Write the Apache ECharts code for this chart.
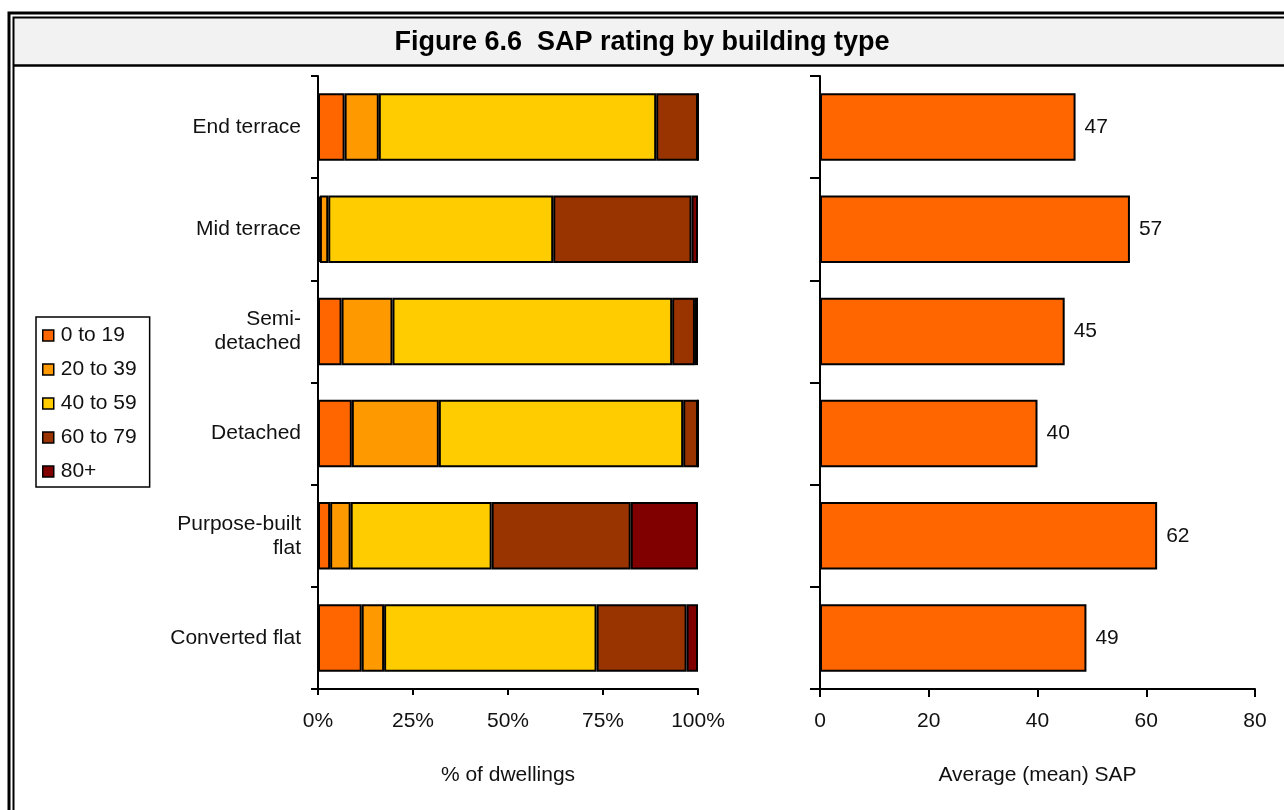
<!DOCTYPE html>
<html>
<head>
<meta charset="utf-8">
<script src="https://cdn.jsdelivr.net/npm/echarts@6/dist/echarts.min.js"></script>
<style>
  html, body { margin: 0; padding: 0; background: #fff; }
  #chart { width: 1284px; height: 810px; }
</style>
</head>
<body>
<div id="chart"></div>
<script>
// Building types, top to bottom
const buildingTypes = ['End terrace', 'Mid terrace', 'Semi-\ndetached', 'Detached', 'Purpose-built\nflat', 'Converted flat'];

// SAP bands and their share of dwellings (%) per building type
const bandNames = ['0 to 19', '20 to 39', '40 to 59', '60 to 79', '80+'];
const band0to19  = [7.0, 0.5, 6.2, 8.9, 3.2, 11.5];
const band20to39 = [9.0, 2.2, 13.4, 22.9, 5.4, 5.9];
const band40to59 = [73.0, 59.2, 73.6, 64.3, 37.1, 55.9];
const band60to79 = [11.0, 36.4, 6.0, 3.9, 36.6, 23.7];
const band80plus = [0.0, 1.7, 0.8, 0.0, 17.7, 3.0];

// Average (mean) SAP per building type
const meanSap = [47, 57, 45, 40, 62, 49];

const bandColors = ['#FF6600', '#FF9900', '#FFCC00', '#993300', '#800000'];
const bandValues = [band0to19, band20to39, band40to59, band60to79, band80plus];

const FONT = '"Liberation Sans", Arial, sans-serif';
const TXT = '#111';
const FS = 21;

const chart = echarts.init(document.getElementById('chart'), null, { renderer: 'canvas' });

const stackSeries = bandNames.map((name, i) => ({
  name: name,
  type: 'bar',
  stack: 'share',
  xAxisIndex: 0,
  yAxisIndex: 0,
  barCategoryGap: '34%',
  itemStyle: { color: bandColors[i], borderColor: '#000', borderWidth: 2 },
  emphasis: { disabled: true },
  data: bandValues[i]
}));

const axisLine = { show: true, lineStyle: { color: '#000', width: 2 } };

chart.setOption({
  animation: false,
  textStyle: { fontFamily: FONT },
  graphic: [
    { type: 'rect', shape: { x: 14, y: 18, width: 1270, height: 47 }, style: { fill: '#f2f2f2' }, silent: true },
    { type: 'polyline', shape: { points: [[9, 810], [9, 13], [1284, 13]] }, style: { stroke: '#000', lineWidth: 3, fill: null }, silent: true },
    { type: 'polyline', shape: { points: [[13.5, 810], [13.5, 17.5], [1284, 17.5]] }, style: { stroke: '#000', lineWidth: 2, fill: null }, silent: true },
    { type: 'line', shape: { x1: 14, y1: 65.5, x2: 1284, y2: 65.5 }, style: { stroke: '#000', lineWidth: 2.5 }, silent: true },
    { type: 'text', x: 642, y: 43, style: { text: 'Figure 6.6  SAP rating by building type', font: 'bold 27px ' + FONT, fill: '#000', textAlign: 'center', textVerticalAlign: 'middle' }, silent: true }
  ],
  legend: {
    orient: 'vertical',
    left: 36,
    top: 317,
    data: bandNames,
    icon: 'rect',
    itemWidth: 11,
    itemHeight: 11,
    itemGap: 13,
    padding: [8, 13, 5, 6],
    borderColor: '#000',
    borderWidth: 1.5,
    backgroundColor: '#fff',
    selectedMode: false,
    itemStyle: { borderColor: '#000', borderWidth: 1.5 },
    textStyle: { fontSize: FS, color: TXT, lineHeight: 21, padding: [0, 0, 0, 2], fontFamily: FONT }
  },
  grid: [
    { left: 318, right: 586, top: 76, bottom: 121 },
    { left: 820, right: 29, top: 76, bottom: 121 }
  ],
  xAxis: [
    {
      gridIndex: 0, type: 'value', min: 0, max: 100, interval: 25,
      axisLine: axisLine,
      axisTick: { show: true, length: 6, lineStyle: { color: '#000', width: 2 } },
      splitLine: { show: false },
      axisLabel: { formatter: '{value}%', fontSize: FS, color: TXT, margin: 22 },
      name: '% of dwellings', nameLocation: 'middle', nameGap: 76,
      nameTextStyle: { fontSize: FS, color: TXT }
    },
    {
      gridIndex: 1, type: 'value', min: 0, max: 80, interval: 20,
      axisLine: axisLine,
      axisTick: { show: true, length: 8, lineStyle: { color: '#000', width: 2 } },
      splitLine: { show: false },
      axisLabel: { fontSize: FS, color: TXT, margin: 22 },
      name: 'Average (mean) SAP', nameLocation: 'middle', nameGap: 76,
      nameTextStyle: { fontSize: FS, color: TXT }
    }
  ],
  yAxis: [
    {
      gridIndex: 0, type: 'category', data: buildingTypes, inverse: true,
      axisLine: axisLine,
      axisTick: { show: true, length: 7, lineStyle: { color: '#000', width: 2 } },
      axisLabel: { fontSize: FS, color: TXT, margin: 17, lineHeight: 24, align: 'right' }
    },
    {
      gridIndex: 1, type: 'category', data: buildingTypes, inverse: true,
      axisLine: axisLine,
      axisTick: { show: true, length: 10, lineStyle: { color: '#000', width: 2 } },
      axisLabel: { show: false }
    }
  ],
  series: stackSeries.concat([
    {
      name: 'Average (mean) SAP',
      type: 'bar',
      xAxisIndex: 1,
      yAxisIndex: 1,
      barCategoryGap: '34%',
      itemStyle: { color: '#FF6600', borderColor: '#000', borderWidth: 2 },
      emphasis: { disabled: true },
      label: { show: true, position: 'right', distance: 9, fontSize: FS, color: TXT },
      data: meanSap
    }
  ])
});
</script>
</body>
</html>
